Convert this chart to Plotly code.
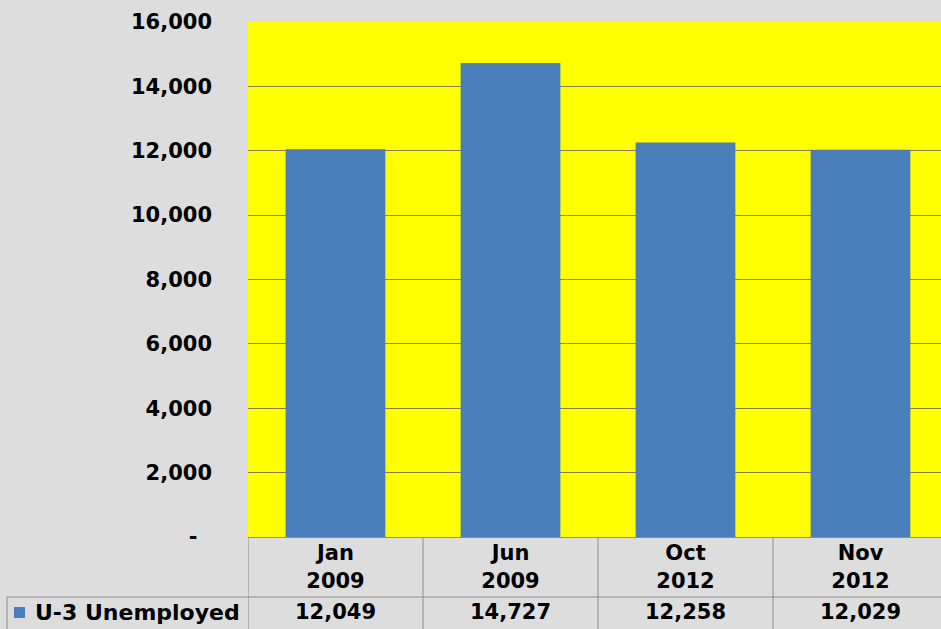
import plotly.graph_objects as go

categories = ["Jan<br>2009", "Jun<br>2009", "Oct<br>2012", "Nov<br>2012"]
series_name = "U-3 Unemployed"
values = [12049, 14727, 12258, 12029]
y_ticks = [0, 2000, 4000, 6000, 8000, 10000, 12000, 14000, 16000]
y_tick_text = ["-\u00a0\u00a0" if v == 0 else f"{v:,}" for v in y_ticks]

W, H = 941, 629
ML, MT, MB = 248, 22, 92
PW = W - ML
PH = H - MT - MB

def px(x):
    return (x - ML) / PW

def py(y):
    return (MT + PH - y) / PH

FONT = dict(family="DejaVu Sans", size=21, color="#000000", weight="bold")
LABEL_FONT = dict(family="DejaVu Sans", size=22, color="#000000", weight="bold")
BLUE = "#4a7ebb"
LINE = "#8c8c8c"
BG = "#dddddd"

fig = go.Figure()
fig.add_trace(go.Bar(x=list(range(len(categories))), y=values, name=series_name,
                     marker=dict(color=BLUE, line=dict(width=0)), showlegend=False))

fig.update_layout(
    width=W, height=H,
    margin=dict(l=ML, r=0, t=MT, b=MB, pad=0),
    paper_bgcolor=BG, plot_bgcolor="#ffff00",
    bargap=0.43,
    font=FONT,
)
fig.update_xaxes(
    range=[-0.5, -0.5 + PW / 175.0],
    tickvals=list(range(len(categories))), ticktext=categories,
    tickfont=FONT, showgrid=False, zeroline=False,
    showline=True, linecolor=LINE, linewidth=1,
    ticks="", ticklabelstandoff=-3,
)
fig.update_yaxes(
    range=[0, 16000], tickvals=y_ticks, ticktext=y_tick_text,
    tickfont=FONT, showgrid=True, gridcolor="#8a7d52", gridwidth=1,
    zeroline=False, showline=False, ticks="", ticklabelstandoff=35,
)

# data table lines
shapes = []
for b in [-0.5, 0.5, 1.5, 2.5]:
    shapes.append(dict(type="line", xref="x", yref="paper", x0=b, x1=b,
                       y0=0, y1=py(H), line=dict(color=LINE, width=1)))
shapes.append(dict(type="line", xref="paper", yref="paper", x0=px(7), x1=px(W),
                   y0=py(597), y1=py(597), line=dict(color=LINE, width=1)))
shapes.append(dict(type="line", xref="paper", yref="paper", x0=px(7), x1=px(7),
                   y0=py(597), y1=py(H), line=dict(color=LINE, width=1)))
# legend key square
shapes.append(dict(type="rect", xref="paper", yref="paper", x0=px(14), x1=px(25),
                   y0=py(618), y1=py(607), fillcolor=BLUE, line=dict(width=0)))
fig.update_layout(shapes=shapes)

annotations = [dict(xref="paper", yref="paper", x=px(33), y=py(612), text=series_name,
                    showarrow=False, xanchor="left", yanchor="middle", font=LABEL_FONT)]
for i, v in enumerate(values):
    annotations.append(dict(xref="x", yref="paper", x=i, y=py(612), text=f"{v:,}",
                            showarrow=False, xanchor="center", yanchor="middle", font=FONT))
fig.update_layout(annotations=annotations)

fig.write_html("out.html")
